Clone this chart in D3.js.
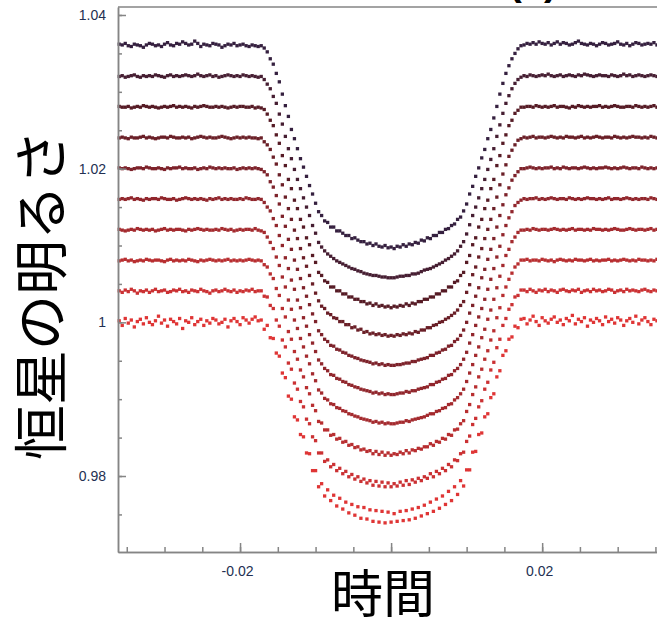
<!DOCTYPE html>
<html>
<head>
<meta charset="utf-8">
<script src="https://cdn.jsdelivr.net/npm/d3@7"></script>
<style>
	body { margin: 0; background: #fff; }
	svg { display: block; }
</style>
</head>
<body>
<div id="mainWrapper"><svg width="657" height="622"></svg></div>
<script>
// 時刻 (単位 1e-4 日)
var times = [
	-360,-356,-352,-348,-344,-340,-336,-332,-328,-324,-320,-316,-312,-308,-304,-300,-296,-292,-288,-284,
	-280,-276,-272,-268,-264,-260,-256,-252,-248,-244,-240,-236,-232,-228,-224,-220,-216,-212,-208,-204,
	-200,-196,-192,-188,-184,-180,-176,-172,-168,-164,-160,-156,-152,-148,-144,-140,-136,-132,-128,-124,
	-120,-116,-112,-108,-104,-100,-96,-92,-88,-84,-80,-76,-72,-68,-64,-60,-56,-52,-48,-44,
	-40,-36,-32,-28,-24,-20,-16,-12,-8,-4,0,4,8,12,16,20,24,28,32,36,
	40,44,48,52,56,60,64,68,72,76,80,84,88,92,96,100,104,108,112,116,
	120,124,128,132,136,140,144,148,152,156,160,164,168,172,176,180,184,188,192,196,
	200,204,208,212,216,220,224,228,232,236,240,244,248,252,256,260,264,268,272,276,
	280,284,288,292,296,300,304,308,312,316,320,324,328,332,336,340,344,348,352,356
];

// 各波長チャンネルのベースライン (表示用オフセット)
var baselines = [1.036, 1.032, 1.028, 1.024, 1.020, 1.016, 1.012, 1.008, 1.004, 1.000];

// 明るさの変化 (単位 1e-4)
var ch1 = [
	2,1,3,0,-1,2,1,0,-2,1,3,2,0,1,-1,2,4,1,0,3,2,5,3,1,2,6,3,-1,2,1,0,3,2,1,-2,0,2,1,3,0,1,2,0,-1,1,0,-1,
	0,-3,-8,-17,-24,-36,-47,-63,-78,-92,-109,-121,-134,-147,-158,-170,-182,-193,-205,-216,
	-221,-228,-230,-236,-236,-241,-241,-244,-247,-247,-251,-250,-253,-255,-255,-258,-257,-260,-258,-261,
	-262,-260,-263,-262,-264,-261,-262,-259,-261,-258,-259,-256,-257,-253,-254,-250,-251,-247,-247,-243,
	-243,-239,-238,-234,-232,-226,-223,-215,-206,-193,-183,-170,-159,-146,-135,-121,-109,-94,-79,-63,
	-49,-36,-26,-17,-10,-4,0,
	1,3,2,4,2,5,3,2,4,1,3,5,2,4,3,1,2,4,6,3,2,1,3,2,0,2,4,3,1,2,3,5,2,1,3,0,2,4,3,1,2,3,2,4,1,3
];
var ch2 = [
	0,1,-1,0,1,2,0,-1,1,0,1,0,2,1,0,-1,1,2,0,1,0,1,2,1,0,1,3,1,0,1,2,0,1,-1,0,1,2,1,0,1,0,2,1,0,1,0,-1,
	0,-4,-10,-16,-26,-35,-49,-62,-78,-94,-107,-121,-134,-146,-158,-170,-181,-194,-204,-216,
	-222,-227,-231,-234,-237,-240,-242,-244,-246,-248,-250,-251,-253,-254,-256,-257,-258,-259,-259,-260,
	-261,-261,-262,-262,-262,-261,-260,-260,-259,-259,-257,-257,-256,-254,-252,-251,-250,-248,-246,-244,
	-242,-239,-237,-234,-231,-227,-221,-215,-205,-193,-181,-170,-158,-146,-134,-121,-108,-94,-78,-63,
	-48,-35,-25,-16,-9,-4,-1,
	1,0,2,1,0,1,2,1,3,1,0,1,2,0,1,2,1,0,2,1,3,2,1,0,1,2,1,1,0,2,1,0,1,3,1,2,0,1,2,1,0,1,2,1,0,1
];
var ch3 = [
	1,0,0,1,-1,0,1,0,2,1,0,1,0,-1,0,1,0,1,2,0,1,0,1,0,-1,1,0,1,2,1,0,0,1,0,1,0,-1,0,1,0,1,1,0,0,1,-1,0,
	-1,-3,-9,-17,-24,-36,-47,-63,-76,-94,-106,-121,-132,-146,-156,-170,-179,-193,-202,-215,
	-219,-226,-228,-234,-234,-239,-239,-243,-243,-247,-247,-250,-250,-253,-253,-256,-255,-258,-256,-259,
	-258,-260,-259,-261,-259,-260,-258,-259,-256,-258,-255,-256,-253,-253,-250,-250,-247,-247,-243,-243,
	-239,-239,-234,-234,-228,-226,-219,-215,-202,-193,-179,-170,-156,-146,-132,-121,-106,-94,-76,-63,
	-47,-36,-24,-17,-8,-4,0,
	0,1,1,0,2,1,0,1,0,1,2,0,1,1,0,-1,1,0,2,1,0,1,0,1,1,2,0,1,0,1,2,1,0,0,1,1,0,2,1,0,1,0,1,2,0,1
];
var ch4 = [
	0,1,0,-1,1,0,0,1,2,0,1,0,-1,0,1,1,0,2,1,0,0,1,0,1,-1,0,1,2,1,0,1,0,0,1,2,1,0,-1,0,1,0,1,0,1,0,0,-1,
	0,-5,-9,-15,-25,-34,-48,-61,-77,-92,-106,-120,-131,-144,-156,-167,-179,-190,-202,-212,
	-219,-222,-228,-230,-234,-235,-239,-239,-243,-243,-247,-246,-250,-249,-253,-252,-255,-254,-256,-255,
	-257,-256,-258,-257,-258,-256,-257,-255,-256,-254,-255,-252,-253,-250,-250,-247,-247,-244,-243,-240,
	-239,-236,-234,-231,-228,-224,-218,-213,-201,-191,-178,-168,-155,-144,-131,-119,-106,-92,-77,-61,
	-47,-35,-24,-16,-9,-3,-1,
	1,0,1,2,0,1,1,0,1,2,1,0,1,0,2,1,1,0,1,2,0,1,0,1,2,1,0,1,1,0,2,1,0,1,0,1,2,1,1,0,1,0,2,1,0,1
];
var ch5 = [
	1,0,1,0,-1,0,1,1,0,2,1,0,0,1,0,-1,1,0,1,1,2,0,1,0,0,1,-1,0,1,0,2,1,0,1,0,1,0,0,1,-1,0,1,0,1,0,1,0,
	-1,-4,-8,-17,-24,-35,-46,-62,-75,-92,-105,-119,-131,-143,-155,-166,-177,-189,-199,-211,
	-216,-222,-225,-230,-231,-235,-236,-239,-240,-243,-244,-246,-247,-249,-250,-251,-252,-254,-253,-255,
	-254,-256,-255,-256,-256,-255,-255,-254,-253,-253,-251,-251,-249,-248,-247,-246,-243,-243,-240,-239,
	-236,-235,-231,-230,-225,-222,-217,-210,-200,-188,-178,-166,-155,-142,-131,-118,-105,-91,-76,-61,
	-47,-34,-25,-15,-9,-4,0,
	0,1,2,1,0,1,0,1,1,2,0,1,0,2,1,0,1,1,0,1,2,1,0,1,0,1,1,2,1,0,1,0,1,2,1,0,1,1,0,2,1,0,1,0,1,1
];
var ch6 = [
	0,1,0,1,2,0,1,0,-1,1,0,1,1,0,2,1,0,0,1,-1,0,1,2,1,0,1,0,1,0,-1,1,0,1,2,0,1,0,1,0,0,1,0,2,1,0,0,1,
	0,-4,-10,-15,-25,-34,-47,-60,-76,-90,-105,-117,-131,-141,-154,-165,-176,-187,-198,-209,
	-214,-220,-223,-228,-229,-233,-234,-237,-238,-241,-242,-244,-245,-247,-248,-249,-250,-252,-251,-253,
	-252,-254,-253,-254,-254,-253,-252,-252,-250,-251,-249,-249,-247,-246,-245,-244,-241,-241,-238,-237,
	-234,-233,-229,-228,-223,-220,-215,-208,-199,-187,-176,-164,-153,-142,-130,-117,-104,-90,-75,-61,
	-46,-34,-24,-16,-8,-4,-1,
	1,0,1,1,2,0,1,0,1,2,1,0,1,1,0,2,1,0,1,0,1,2,1,1,0,1,0,1,2,0,1,1,0,1,2,1,0,1,0,1,1,0,2,1,0,1
];
var ch7 = [
	1,0,-1,0,1,0,2,1,0,1,0,1,-1,0,1,2,0,1,0,1,1,0,-1,1,0,1,2,1,0,1,0,0,1,0,2,1,0,1,-1,0,1,0,1,1,0,2,0,
	-1,-3,-9,-16,-24,-35,-46,-61,-74,-91,-103,-117,-128,-141,-152,-164,-174,-187,-196,-208,
	-212,-219,-221,-226,-227,-231,-232,-235,-236,-239,-240,-242,-243,-245,-246,-247,-248,-250,-249,-251,
	-250,-252,-251,-252,-252,-251,-250,-250,-248,-249,-247,-246,-245,-244,-243,-241,-239,-239,-236,-235,
	-232,-231,-227,-226,-221,-218,-213,-207,-197,-186,-175,-163,-152,-140,-129,-116,-104,-90,-75,-60,
	-46,-33,-25,-15,-9,-3,0,
	0,1,0,2,1,0,1,1,0,1,2,1,0,1,0,1,2,0,1,1,0,1,0,2,1,1,0,1,0,1,2,1,0,0,1,2,1,0,1,1,0,1,2,0,1,0
];
var ch8 = [
	0,1,2,0,1,-1,0,1,0,2,1,0,1,1,0,-1,1,2,0,1,0,1,0,2,1,0,-1,1,0,1,2,1,0,1,0,1,2,0,1,0,1,0,1,2,1,0,1,
	0,-5,-8,-17,-23,-36,-45,-62,-73,-92,-102,-118,-128,-142,-151,-165,-173,-188,-195,-209,
	-211,-220,-220,-227,-226,-232,-231,-236,-235,-240,-239,-243,-242,-246,-245,-248,-247,-251,-248,-252,
	-249,-253,-250,-253,-251,-252,-249,-251,-247,-250,-246,-247,-244,-245,-242,-242,-238,-240,-235,-236,
	-231,-232,-226,-227,-220,-219,-212,-208,-196,-187,-174,-164,-151,-141,-128,-117,-103,-91,-74,-61,
	-45,-34,-24,-16,-8,-4,1,
	1,2,0,1,1,0,2,1,0,1,-1,1,2,1,0,1,0,2,1,1,0,1,2,0,1,0,1,1,2,0,1,0,1,2,1,0,1,0,2,1,1,0,1,0,2,1
];
var ch9 = [
	1,-1,2,0,3,1,-2,1,0,2,-1,1,3,0,1,2,-1,0,2,1,3,0,1,-1,2,1,0,3,1,0,-2,1,2,0,1,3,1,0,2,-1,1,0,2,1,3,0,1,
	1,-6,-7,-18,-22,-37,-45,-63,-72,-93,-101,-119,-127,-143,-150,-166,-172,-189,-194,-210,
	-210,-221,-219,-228,-225,-233,-230,-237,-234,-241,-238,-244,-241,-247,-244,-249,-246,-252,-247,-253,
	-248,-254,-249,-254,-250,-253,-248,-252,-246,-251,-245,-248,-243,-246,-241,-243,-237,-241,-234,-237,
	-230,-233,-225,-228,-219,-220,-211,-209,-195,-188,-173,-165,-150,-142,-127,-118,-102,-92,-73,-62,
	-44,-35,-23,-17,-7,-5,2,
	2,0,3,1,-1,2,1,3,0,2,1,-1,2,3,1,0,2,1,3,-1,1,2,0,3,1,2,0,1,3,2,-1,1,2,0,3,1,2,1,0,2,3,1,0,2,1,2
];
var ch10 = [
	2,-4,5,-1,3,-6,1,4,-2,6,0,-3,2,8,-1,3,-5,4,1,-2,5,-8,2,0,6,-3,1,4,-4,2,-1,5,3,-2,0,4,-6,2,5,1,-3,6,3,-1,4,7,2,
	3,-9,-4,-20,-21,-40,-44,-66,-72,-96,-100,-123,-127,-146,-149,-170,-171,-193,-193,-214,
	-210,-226,-218,-232,-225,-239,-229,-243,-234,-248,-237,-251,-240,-255,-241,-256,-244,-259,-245,-260,
	-246,-261,-247,-260,-249,-259,-246,-258,-245,-257,-243,-255,-241,-252,-238,-249,-234,-246,-230,-242,
	-226,-237,-220,-232,-214,-224,-206,-213,-192,-192,-169,-168,-146,-144,-123,-119,-98,-93,-71,-63,
	-43,-37,-22,-19,-5,-7,4,
	5,-2,3,8,1,-4,6,2,-1,4,7,0,3,-3,5,2,9,-2,4,1,6,-5,3,0,5,2,-3,7,1,4,-1,6,3,-4,2,5,0,8,-2,3,6,1,-3,4,2,5
];
var channels = [ch1, ch2, ch3, ch4, ch5, ch6, ch7, ch8, ch9, ch10];

// 目盛り
var yTickValues = [0.98, 1, 1.02, 1.04];
var yTickLabels = ["0.98", "1", "1.02", "1.04"];
var xTickValues = [-0.02, 0.02];
var xTickLabels = ["-0.02", "0.02"];

var yTitle = "恒星の明るさ";
var xTitle = "時間";
var panelLabel = "(a)";

(function(){

	var svg = d3.select("#mainWrapper>svg");

	var left = 118, right = 663, top = 7, bottom = 552;

	var x = d3.scaleLinear()
		.domain([-0.03616, 0.036])
		.range([left, right]);

	var y = d3.scaleLinear()
		.domain([0.97011, 1.04104])
		.range([bottom, top]);

	// 色 (上: 暗紫 → 下: 赤)
	var color = d3.scaleLinear()
		.domain([0, 2, 9])
		.range(["#35203f", "#561b25", "#df3535"]);

	channels.forEach(function(c, j){
		if (c.length !== times.length) console.error("ch" + (j+1) + " length " + c.length);
	});

	//枠
	svg.append("line")
		.attr("x1", left).attr("x2", 660)
		.attr("y1", top).attr("y2", top)
		.attr("stroke", "#858585")
		.attr("stroke-width", 1.5);

	//データ点
	var size = 3.3;
	var plot = svg.append("g");
	channels.forEach(function(c, j){
		plot.append("g")
			.attr("fill", color(j))
			.selectAll("rect")
			.data(c)
			.enter()
			.append("rect")
			.attr("x", function(d, i){ return x(times[i] / 10000) - size / 2; })
			.attr("y", function(d){ return y(baselines[j] + d / 10000) - size / 2; })
			.attr("width", size)
			.attr("height", size);
	});

	//Y軸
	var yMinor = y.ticks(14).filter(function(v){ return v > 0.971; });
	var yAxisMinor = d3.axisLeft(y).tickValues(yMinor).tickSize(-4).tickSizeOuter(0).tickFormat("");
	var yAxis = d3.axisLeft(y).tickValues(yTickValues).tickSize(-8).tickSizeOuter(0)
		.tickFormat(function(d, i){ return yTickLabels[i]; });

	var gy = svg.append("g").attr("transform", "translate(" + left + ",0)");
	gy.call(yAxisMinor);
	gy.append("g").call(yAxis);

	//X軸
	var xMinor = x.ticks(14);
	var xMajor = xTickValues.concat([0]);
	var xAxisMinor = d3.axisBottom(x).tickValues(xMinor).tickSize(-5).tickSizeOuter(0).tickFormat("");
	var xAxis = d3.axisBottom(x).tickValues(xMajor).tickSize(-9).tickSizeOuter(0)
		.tickFormat(function(d){
			var k = xTickValues.indexOf(d);
			return k < 0 ? "" : xTickLabels[k];
		});

	var gx = svg.append("g").attr("transform", "translate(0," + bottom + ")");
	gx.call(xAxisMinor);
	gx.append("g").call(xAxis);

	svg.selectAll(".domain, .tick line")
		.attr("stroke", "#858585")
		.attr("stroke-width", 1.5);

	svg.selectAll(".tick text")
		.attr("fill", "#233052")
		.attr("font-family", "'Liberation Sans', Arial, sans-serif")
		.attr("font-size", 14);

	gy.selectAll(".tick text").attr("x", -12);
	gx.selectAll(".tick text").attr("y", 14).attr("dx", -3);

	//タイトル
	svg.append("text")
		.attr("transform", "translate(42,295) rotate(-90)")
		.attr("text-anchor", "middle")
		.attr("dy", "0.35em")
		.attr("font-family", "'Noto Sans CJK JP', sans-serif")
		.attr("font-size", 55)
		.attr("fill", "#000")
		.text(yTitle);

	svg.append("text")
		.attr("x", 383)
		.attr("y", 613)
		.attr("text-anchor", "middle")
		.attr("font-family", "'Noto Sans CJK JP', sans-serif")
		.attr("font-size", 52)
		.attr("fill", "#000")
		.text(xTitle);

	svg.append("text")
		.attr("x", 533)
		.attr("y", -5)
		.attr("text-anchor", "middle")
		.attr("font-family", "'Liberation Sans', Arial, sans-serif")
		.attr("font-weight", "bold")
		.attr("font-size", 40)
		.attr("fill", "#000")
		.text(panelLabel);

})();
</script>
</body>
</html>
